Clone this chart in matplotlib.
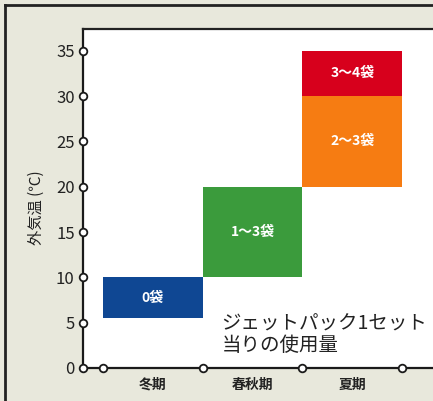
import matplotlib.pyplot as plt
from matplotlib.lines import Line2D

plt.rcParams['font.family'] = ['Noto Sans CJK JP', 'DejaVu Sans']

# data
seasons = ['冬期', '春秋期', '夏期']
bar_pos = [1, 2, 3, 3]
bar_low = [5.5, 10, 20, 30]
bar_high = [10, 20, 30, 35]
bar_text = ['0袋', '1〜3袋', '2〜3袋', '3〜4袋']
bar_colors = ['#0f4793', '#3b9b3c', '#f67c12', '#d7001c']
yticks = [0, 5, 10, 15, 20, 25, 30, 35]

W, H = 433, 401
fig = plt.figure(figsize=(W / 100, H / 100), dpi=100)
fig.patch.set_facecolor('#e8e8dc')

# plot area in pixels: left 83, top 29, bottom 368, runs off the right edge
ax = fig.add_axes([83 / W, (H - 368) / H, (W - 83) / W, (368 - 29) / H])
ax.set_facecolor('white')
ax.set_xlim(0.3, 3.81)
ax.set_ylim(0, 37.4)

for x, lo, hi, t, c in zip(bar_pos, bar_low, bar_high, bar_text, bar_colors):
    ax.bar(x, hi - lo, bottom=lo, width=1.0, color=c, edgecolor='none')
    ax.text(x, (lo + hi) / 2, t, color='white', ha='center', va='center',
            fontsize=10, fontweight='bold')

ax.text(1.69, 3.7, 'ジェットパック1セット\n当りの使用量', fontsize=14,
        ha='left', va='center', color='#222222', linespacing=1.05)

# axes lines
for s in ['right', 'top']:
    ax.spines[s].set_visible(False)
ax.spines['left'].set_linewidth(1.6)
ax.spines['bottom'].set_linewidth(1.6)
ax.spines['left'].set_color('#1a1a1a')
ax.spines['bottom'].set_color('#1a1a1a')

ax.set_yticks(yticks, [str(v) for v in yticks])
ax.tick_params(axis='y', length=0, pad=6, labelsize=12, labelcolor='#222222')
ax.set_xticks([1, 2, 3], seasons)
ax.tick_params(axis='x', length=0, pad=7, labelsize=10, labelcolor='#222222')
for lb in ax.get_xticklabels():
    lb.set_fontweight('bold')

# open circle markers on the axes
mk = dict(marker='o', ms=5.5, mfc='white', mec='#1a1a1a', mew=1.3,
          ls='none', clip_on=False, zorder=5)
ax.plot([0.3] * len(yticks), yticks, **mk)
ax.plot([0.5, 1.5, 2.5, 3.5], [0, 0, 0, 0], **mk)

# y axis title
fig.text(36 / W, 1 - 208 / H, '外気温 (℃)', rotation=90, ha='center',
         va='center', fontsize=11, color='#222222')

# frame lines
fig.add_artist(Line2D([5 / W, 5 / W], [0, 1 - 5 / H], color='#222222', lw=2))
fig.add_artist(Line2D([5 / W, 1], [1 - 5 / H, 1 - 5 / H], color='#222222', lw=2))
fig.add_artist(Line2D([83 / W, 1], [1 - 29 / H, 1 - 29 / H], color='#222222', lw=1.6))

fig.savefig('out.png', dpi=100, facecolor=fig.get_facecolor())
